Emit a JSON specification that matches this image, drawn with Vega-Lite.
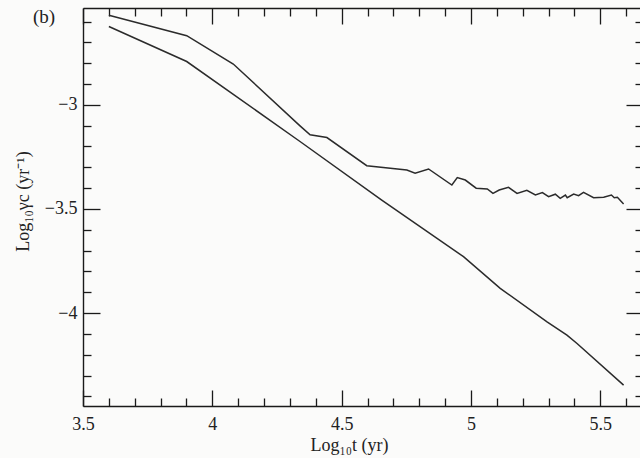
{
  "$schema": "https://vega.github.io/schema/vega-lite/v6.json",
  "width": 560,
  "height": 398,
  "autosize": {"type": "none"},
  "padding": {"left": 83, "top": 8, "right": 0, "bottom": 52},
  "background": "#fbfbfa",
  "title": {
    "text": "(b)",
    "anchor": "start",
    "frame": "group",
    "orient": "top",
    "offset": 0,
    "dx": -50,
    "dy": 35,
    "baseline": "alphabetic",
    "font": "Liberation Serif",
    "fontSize": 19,
    "fontWeight": "normal",
    "color": "#222222"
  },
  "config": {
    "view": {"stroke": null},
    "axis": {
      "domainColor": "#1a1a1a",
      "domainWidth": 1.4,
      "tickColor": "#1a1a1a",
      "tickWidth": 1.3,
      "grid": false,
      "labelFont": "Liberation Serif",
      "labelFontSize": 18,
      "labelColor": "#222222",
      "titleFont": "Liberation Serif",
      "titleFontSize": 18,
      "titleFontWeight": "normal",
      "titleColor": "#222222"
    }
  },
  "data": {
    "values": [
      {"t": 3.600, "g": -2.570, "curve": "upper"},
      {"t": 3.901, "g": -2.668, "curve": "upper"},
      {"t": 4.081, "g": -2.804, "curve": "upper"},
      {"t": 4.339, "g": -3.101, "curve": "upper"},
      {"t": 4.378, "g": -3.144, "curve": "upper"},
      {"t": 4.443, "g": -3.157, "curve": "upper"},
      {"t": 4.597, "g": -3.292, "curve": "upper"},
      {"t": 4.752, "g": -3.313, "curve": "upper"},
      {"t": 4.784, "g": -3.328, "curve": "upper"},
      {"t": 4.836, "g": -3.308, "curve": "upper"},
      {"t": 4.926, "g": -3.385, "curve": "upper"},
      {"t": 4.947, "g": -3.349, "curve": "upper"},
      {"t": 4.978, "g": -3.361, "curve": "upper"},
      {"t": 5.020, "g": -3.400, "curve": "upper"},
      {"t": 5.063, "g": -3.404, "curve": "upper"},
      {"t": 5.085, "g": -3.425, "curve": "upper"},
      {"t": 5.109, "g": -3.409, "curve": "upper"},
      {"t": 5.145, "g": -3.396, "curve": "upper"},
      {"t": 5.178, "g": -3.425, "curve": "upper"},
      {"t": 5.216, "g": -3.410, "curve": "upper"},
      {"t": 5.249, "g": -3.433, "curve": "upper"},
      {"t": 5.276, "g": -3.421, "curve": "upper"},
      {"t": 5.300, "g": -3.441, "curve": "upper"},
      {"t": 5.326, "g": -3.429, "curve": "upper"},
      {"t": 5.345, "g": -3.449, "curve": "upper"},
      {"t": 5.365, "g": -3.433, "curve": "upper"},
      {"t": 5.372, "g": -3.446, "curve": "upper"},
      {"t": 5.397, "g": -3.428, "curve": "upper"},
      {"t": 5.416, "g": -3.436, "curve": "upper"},
      {"t": 5.435, "g": -3.420, "curve": "upper"},
      {"t": 5.474, "g": -3.446, "curve": "upper"},
      {"t": 5.513, "g": -3.444, "curve": "upper"},
      {"t": 5.543, "g": -3.433, "curve": "upper"},
      {"t": 5.554, "g": -3.446, "curve": "upper"},
      {"t": 5.566, "g": -3.444, "curve": "upper"},
      {"t": 5.590, "g": -3.476, "curve": "upper"},
      {"t": 3.600, "g": -2.624, "curve": "lower"},
      {"t": 3.901, "g": -2.792, "curve": "lower"},
      {"t": 4.339, "g": -3.176, "curve": "lower"},
      {"t": 4.655, "g": -3.457, "curve": "lower"},
      {"t": 4.971, "g": -3.729, "curve": "lower"},
      {"t": 5.113, "g": -3.881, "curve": "lower"},
      {"t": 5.294, "g": -4.042, "curve": "lower"},
      {"t": 5.371, "g": -4.106, "curve": "lower"},
      {"t": 5.410, "g": -4.146, "curve": "lower"},
      {"t": 5.590, "g": -4.346, "curve": "lower"}
    ]
  },
  "resolve": {"axis": {"x": "independent", "y": "independent"}},
  "layer": [
    {
      "transform": [{"filter": "datum.curve === 'upper'"}],
      "mark": {"type": "line", "color": "#2b2b2b", "strokeWidth": 1.5, "clip": true},
      "encoding": {
        "x": {
          "field": "t",
          "type": "quantitative",
          "scale": {"domain": [3.5, 5.665], "nice": false, "zero": false},
          "axis": {
            "orient": "bottom",
            "title": "Log₁₀t (yr)",
            "titleX": 266,
            "titleY": 44,
            "titleBaseline": "alphabetic",
            "values": [3.5, 3.6, 3.7, 3.8, 3.9, 4.0, 4.1, 4.2, 4.3, 4.4, 4.5, 4.6, 4.7, 4.8, 4.9, 5.0, 5.1, 5.2, 5.3, 5.4, 5.5, 5.6],
            "format": "~g",
            "labelExpr": "abs(datum.value * 2 - round(datum.value * 2)) < 0.001 ? datum.label : ''",
            "tickSize": {"condition": {"test": "abs(datum.value * 2 - round(datum.value * 2)) < 0.001", "value": -16}, "value": -8},
            "labelPadding": 25,
            "labelFlush": false
          }
        },
        "y": {
          "field": "g",
          "type": "quantitative",
          "scale": {"domain": [-4.446, -2.535], "nice": false, "zero": false},
          "axis": {
            "orient": "left",
            "title": "Log₁₀γc (yr⁻¹)",
            "titleY": 193,
            "titlePadding": 12,
            "values": [-4.4, -4.3, -4.2, -4.1, -4.0, -3.9, -3.8, -3.7, -3.6, -3.5, -3.4, -3.3, -3.2, -3.1, -3.0, -2.9, -2.8, -2.7, -2.6],
            "format": "~g",
            "labelExpr": "abs(datum.value * 2 - round(datum.value * 2)) < 0.001 ? datum.label : ''",
            "tickSize": {"condition": {"test": "abs(datum.value * 2 - round(datum.value * 2)) < 0.001", "value": -17}, "value": -8},
            "labelPadding": 23,
            "labelFlush": false
          }
        }
      }
    },
    {
      "transform": [{"filter": "datum.curve === 'lower'"}],
      "mark": {"type": "line", "color": "#2b2b2b", "strokeWidth": 1.5, "clip": true},
      "encoding": {
        "x": {
          "field": "t",
          "type": "quantitative",
          "axis": {
            "orient": "top",
            "title": null,
            "labels": false,
            "values": [3.5, 3.6, 3.7, 3.8, 3.9, 4.0, 4.1, 4.2, 4.3, 4.4, 4.5, 4.6, 4.7, 4.8, 4.9, 5.0, 5.1, 5.2, 5.3, 5.4, 5.5, 5.6],
            "tickSize": {"condition": {"test": "abs(datum.value * 2 - round(datum.value * 2)) < 0.001", "value": -16}, "value": -8}
          }
        },
        "y": {
          "field": "g",
          "type": "quantitative",
          "axis": {
            "orient": "right",
            "title": null,
            "labels": false,
            "values": [-4.4, -4.3, -4.2, -4.1, -4.0, -3.9, -3.8, -3.7, -3.6, -3.5, -3.4, -3.3, -3.2, -3.1, -3.0, -2.9, -2.8, -2.7, -2.6],
            "tickSize": {"condition": {"test": "abs(datum.value * 2 - round(datum.value * 2)) < 0.001", "value": -17}, "value": -8}
          }
        }
      }
    }
  ]
}
